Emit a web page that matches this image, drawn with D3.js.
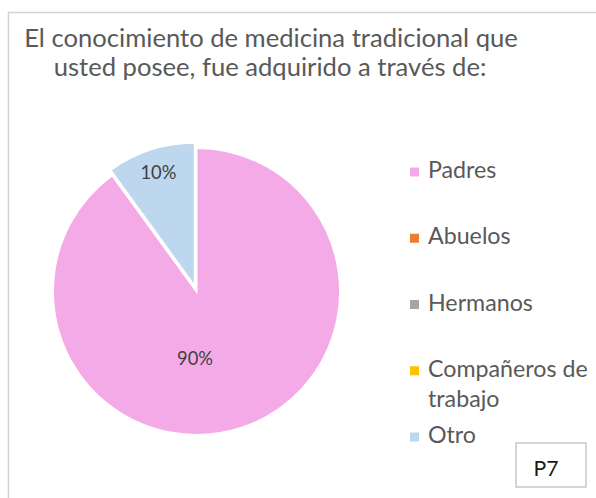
<!DOCTYPE html>
<html>
<head>
<meta charset="utf-8">
<script src="https://cdn.jsdelivr.net/npm/d3@7"></script>
<style>
body { margin: 0; background: #fff; }
text { font-family: Lato, "Open Sans", sans-serif; }
</style>
</head>
<body>
<svg id="chart" width="596" height="498"></svg>
<script>
// data
var categories = ['Padres', 'Abuelos', 'Hermanos', 'Compañeros de trabajo', 'Otro']
var legendLines = [['Padres'], ['Abuelos'], ['Hermanos'], ['Compañeros de', 'trabajo'], ['Otro']]
var values = [90, 0, 0, 0, 10]
var colors = ['#F4AAE7', '#ED7D31', '#A5A5A5', '#FFC000', '#BDD7EE']
var titleLines = ['El conocimiento de medicina tradicional que', 'usted posee, fue adquirido a través de:']
var tag = 'P7'

var svg = d3.select('#chart')
var W = 596, H = 498

// scale font-size so a text takes a given width
function fit(sel, width) {
    var len = sel.node().getComputedTextLength()
    var fs = parseFloat(sel.attr('font-size'))
    sel.attr('font-size', fs * width / len)
    return fs * width / len
}

// chart frame (only top and left edges show in the crop)
svg.append('rect')
    .attr('x', 8.5).attr('y', 12.5)
    .attr('width', W + 20).attr('height', H + 20)
    .attr('fill', 'none').attr('stroke', '#d4d4d4').attr('stroke-width', 1.5)

// title
var t1 = svg.append('text').attr('x', 271).attr('y', 47)
    .attr('text-anchor', 'middle').attr('fill', '#595959').attr('font-size', 20)
    .text(titleLines[0])
var tfs = fit(t1, 494)
svg.append('text').attr('x', 270).attr('y', 76)
    .attr('text-anchor', 'middle').attr('fill', '#595959').attr('font-size', tfs)
    .text(titleLines[1])

// pie
var cx = 196.5, cy = 291.5, R = 143.5, explode = 5.5
var pie = d3.pie().sort(null).value(d => d)
var arcs = pie(values).map((d, i) => Object.assign(d, { i: i }))
var arc = d3.arc().innerRadius(0).outerRadius(R)

var g = svg.append('g').attr('transform', 'translate(' + cx + ',' + cy + ')')

function shift(d) {
    if (categories[d.i] != 'Otro') return [0, 0]
    var a = (d.startAngle + d.endAngle) / 2
    return [Math.sin(a) * explode, -Math.cos(a) * explode]
}

g.selectAll('path.slice')
    .data(arcs.filter(d => d.value > 0))
    .enter().append('path')
    .attr('class', 'slice')
    .attr('d', arc)
    .attr('fill', d => colors[d.i])
    .attr('stroke', '#fff').attr('stroke-width', 2)
    .attr('transform', d => 'translate(' + shift(d) + ')')

// data labels
var labelArc = d3.arc().innerRadius(R * 0.82).outerRadius(R * 0.82)
g.selectAll('text.lbl')
    .data(arcs.filter(d => d.value > 0))
    .enter().append('text')
    .attr('class', 'lbl')
    .attr('text-anchor', 'middle')
    .attr('fill', '#404040')
    .attr('font-size', 15)
    .attr('transform', d => {
        var s = shift(d)
        var p = d.value > 50 ? [-1.5, R * 0.48] : labelArc.centroid(d)
        return 'translate(' + (p[0] + s[0]) + ',' + (p[1] + s[1] + 5) + ')'
    })
    .text(d => d3.format('.0%')(d.value / d3.sum(values)))
    .each(function () { fit(d3.select(this), 36) })

// legend
var ly = d3.scalePoint().domain(categories).range([172, 437])
var lg = svg.append('g')
var items = lg.selectAll('g.item').data(categories).enter().append('g').attr('class', 'item')
items.append('rect')
    .attr('x', 410).attr('y', d => ly(d) - 4.5)
    .attr('width', 9).attr('height', 9)
    .attr('fill', (d, i) => colors[i])
var lfs = null
items.each(function (d, i) {
    var t = d3.select(this).append('text')
        .attr('x', 428).attr('y', ly(d) + 6)
        .attr('fill', '#595959').attr('font-size', 19)
    legendLines[i].forEach((s, k) => {
        t.append('tspan').attr('x', 428).attr('dy', k == 0 ? 0 : 30).text(s)
    })
})
var hm = lg.selectAll('text').filter(d => d == 'Hermanos')
lfs = fit(hm, 105)
lg.selectAll('text').attr('font-size', lfs)

// tag box
svg.append('rect')
    .attr('x', 516).attr('y', 443)
    .attr('width', 70).attr('height', 44)
    .attr('fill', '#fff').attr('stroke', '#c8c8c8').attr('stroke-width', 1.5)
var p7 = svg.append('text').attr('x', 546).attr('y', 476)
    .attr('text-anchor', 'middle').attr('fill', '#1a1a1a').attr('font-size', 18)
    .text(tag)
fit(p7, 25)
</script>
</body>
</html>
